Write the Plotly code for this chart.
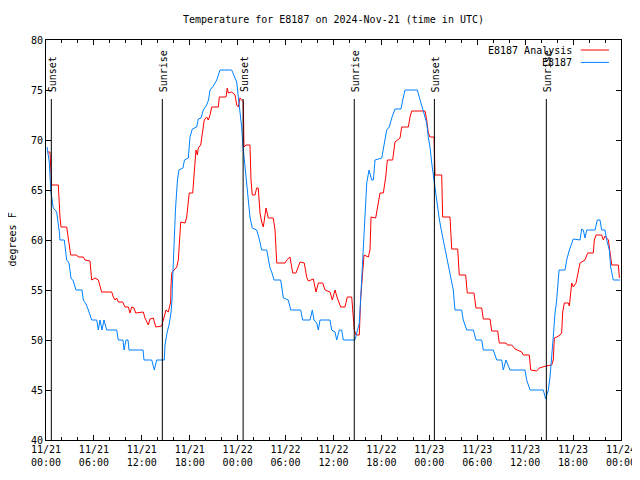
import pandas as pd
import plotly.graph_objects as go

START = "2024-11-21 00:00"
X_RANGE = ["2024-11-21 00:00", "2024-11-24 00:00"]
Y_RANGE = [40, 80]

# E8187 Analysis (red) : hours since START, temperature F
analysis_hours = [0.16, 0.50, 0.71, 1.54, 1.75, 1.88, 2.59, 2.79, 2.92, 3.09, 3.84, 4.04, 4.67, 4.88,
                  5.51, 5.72, 6.14, 6.55, 6.97, 8.23, 8.43, 8.64, 8.85, 9.05, 9.60, 9.89, 10.31, 10.52,
                  10.73, 11.02, 11.23, 11.77, 12.18, 12.40, 12.81, 13.02, 13.44, 13.74, 14.49, 14.69,
                  15.03, 15.31, 15.61, 15.65, 15.74, 16.03, 16.37, 16.57, 16.69, 16.87, 17.41, 17.62,
                  17.82, 17.94, 18.37, 18.57, 18.78, 18.95, 19.07, 19.37, 19.62, 19.82, 20.12, 20.32,
                  20.54, 20.75, 21.58, 21.70, 22.54, 22.70, 22.83, 23.25, 23.67, 23.88, 24.08, 24.29,
                  24.71, 24.79, 25.04, 25.54, 25.67, 25.83, 26.17, 26.38, 26.58, 26.80, 27.01, 27.21,
                  27.55, 27.84, 28.46, 28.68, 28.89, 29.93, 30.14, 30.55, 30.89, 31.30, 31.81, 32.34,
                  32.64, 32.85, 33.47, 33.81, 34.10, 34.65, 34.94, 35.56, 35.85, 36.19, 36.48, 36.90,
                  37.44, 37.73, 38.28, 38.48, 38.61, 38.82, 39.23, 39.41, 39.66, 39.82, 40.36, 40.57,
                  40.70, 41.28, 41.61, 41.82, 42.24, 42.54, 42.74, 43.41, 43.70, 44.33, 44.54, 45.37,
                  45.58, 45.79, 47.46, 47.67, 47.87, 48.08, 48.59, 48.71, 49.55, 49.67, 50.59, 50.80,
                  51.55, 51.75, 52.55, 52.75, 53.59, 53.84, 54.56, 54.76, 55.60, 55.81, 56.56, 56.76,
                  57.60, 57.77, 58.31, 58.73, 59.57, 59.77, 60.52, 60.69, 61.44, 61.77, 62.60, 63.32,
                  63.52, 63.65, 63.95, 64.36, 64.57, 64.70, 64.90, 65.40, 65.53, 65.70, 65.83, 66.03,
                  66.37, 66.87, 67.49, 67.83, 68.53, 68.66, 68.87, 69.58, 69.78, 70.00, 70.42, 70.84,
                  71.67, 71.80]
analysis_temp = [68.8, 68.8, 65.5, 65.5, 62.3, 61.3, 61.3, 60.2, 59.0, 58.5, 58.5, 58.3, 58.3, 58.0,
                 57.9, 56.0, 56.2, 56.0, 54.8, 54.8, 54.3, 54.0, 54.2, 53.8, 53.8, 53.3, 53.3, 52.7,
                 53.3, 53.2, 52.7, 52.8, 52.8, 52.2, 51.5, 52.1, 52.2, 51.3, 51.4, 52.0,
                 53.0, 52.8, 53.8, 55.3, 56.7, 57.0, 57.3, 58.0, 60.0, 61.8, 61.7, 62.3,
                 63.8, 64.7, 64.7, 66.5, 69.0, 68.5, 69.2, 69.5, 71.0, 72.0, 72.3, 72.0,
                 72.5, 73.3, 73.3, 74.3, 74.3, 75.2, 74.7, 74.8, 74.5, 73.5, 73.3, 74.2,
                 73.8, 69.3, 69.5, 69.5, 66.0, 64.5, 64.5, 65.2, 65.2, 62.7, 61.8, 61.3,
                 63.2, 62.2, 62.2, 61.0, 57.7, 57.7, 58.0, 58.3, 56.7, 56.7, 57.8, 57.7,
                 56.3, 55.9, 56.1, 54.8, 55.7, 55.7, 55.0, 54.8, 54.0, 55.0, 54.2, 53.3,
                 53.3, 54.3, 54.3, 52.7, 51.0, 50.5, 50.5, 54.2, 57.3, 58.5, 58.3, 59.0,
                 62.3, 62.2, 63.7, 64.7, 64.7, 66.3, 68.0, 68.0, 69.8, 70.2, 71.3, 71.3,
                 72.3, 72.9, 72.9, 72.0, 70.7, 70.3, 70.3, 66.5, 66.5, 62.3, 62.3, 59.1,
                 59.1, 56.5, 56.5, 54.7, 54.7, 53.2, 53.2, 52.1, 52.1, 50.9, 50.9, 49.7,
                 49.7, 49.5, 49.5, 49.1, 48.8, 48.5, 48.5, 47.0, 46.9, 47.2, 47.4, 47.5,
                 48.0, 50.2, 50.3, 50.5, 50.7, 52.8, 53.7, 53.7, 53.4, 55.2, 55.7, 55.3,
                 55.7, 57.7, 58.0, 58.7, 58.7, 60.0, 60.5, 60.5, 60.0, 60.4, 60.0, 57.5,
                 57.5, 56.2]

# E8187 observations (blue)
obs_hours = [0.13, 0.41, 0.59, 0.71, 0.91, 1.34, 1.54, 1.67, 1.75, 2.29, 2.59, 2.88, 3.13, 3.42,
             3.76, 4.51, 4.67, 5.01, 5.30, 5.72, 6.35, 6.55, 6.76, 7.01, 7.26, 7.60, 8.85, 9.05,
             9.64, 9.77, 10.02, 10.27, 10.39, 12.15, 12.27, 13.24, 13.56, 13.86, 14.81, 14.90,
             15.15, 15.40, 15.65, 15.78, 15.84, 16.03, 16.21, 16.46, 16.65, 17.15, 17.34, 17.82,
             17.97, 18.03, 18.32, 18.87, 19.07, 19.41, 19.70, 20.12, 20.35, 20.54, 20.95, 21.38,
             21.79, 23.25, 23.67, 23.88, 24.08, 24.29, 24.50, 24.63, 24.71, 25.04, 25.33, 25.54,
             25.83, 26.38, 26.67, 27.01, 27.64, 28.05, 28.26, 28.55, 29.39, 29.72, 30.34, 30.64,
             31.89, 32.14, 33.06, 33.35, 33.56, 33.90, 34.10, 34.31, 35.56, 35.77, 36.19, 36.40,
             36.73, 37.03, 37.23, 38.69, 38.91, 39.23, 39.48, 39.73, 39.95, 40.16, 40.45, 40.78,
             40.99, 41.20, 42.04, 42.24, 42.45, 42.66, 42.99, 43.29, 43.70, 44.45, 44.67, 44.95,
             46.49, 46.83, 47.25, 47.67, 47.87, 48.08, 48.30, 48.50, 48.71, 48.92, 49.21, 49.42,
             49.75, 50.17, 50.59, 51.00, 51.21, 52.05, 52.25, 52.68, 53.51, 53.85, 54.56, 54.76,
             56.01, 56.44, 57.06, 57.26, 57.60, 58.10, 59.98, 60.19, 60.61, 62.27, 62.57, 62.90,
             63.11, 63.32, 63.52, 63.74, 63.95, 64.24, 64.99, 65.20, 65.53, 66.03, 66.87, 67.08,
             67.28, 67.49, 67.71, 68.75, 69.03, 69.37, 69.58, 70.00, 70.21, 70.54, 70.71, 71.03,
             71.88]
obs_temp = [69.3, 67.8, 65.0, 64.2, 63.2, 62.8, 61.8, 60.8, 60.0, 60.0, 58.0, 57.7, 56.2, 55.9,
            55.0, 55.0, 54.0, 53.6, 53.0, 52.0, 52.0, 51.0, 52.0, 51.0, 52.0, 51.0, 51.0, 50.0,
            50.0, 49.0, 50.0, 50.0, 49.0, 49.0, 48.0, 48.0, 47.0, 48.0, 48.0, 49.5,
            50.7, 51.5, 52.7, 54.0, 55.7, 60.0, 63.0, 66.0, 67.0, 67.2, 68.0, 68.2,
            69.5, 70.3, 71.1, 71.3, 72.1, 72.2, 73.0, 73.5, 74.0, 75.0, 75.4, 76.0,
            77.0, 77.0, 76.2, 75.8, 74.3, 73.0, 71.3, 69.7, 69.0, 66.0, 63.8, 62.3,
            61.2, 61.0, 60.2, 59.0, 59.0, 57.2, 56.8, 56.0, 56.0, 54.2, 54.0, 53.0,
            53.0, 52.0, 52.0, 53.0, 52.0, 51.7, 51.0, 52.0, 52.0, 51.0, 50.8, 50.0,
            51.0, 51.0, 50.0, 50.0, 50.7, 51.7, 55.3, 59.0, 62.0, 65.7, 67.0, 66.0,
            66.0, 68.0, 68.2, 69.2, 69.8, 71.0, 71.3, 72.2, 73.1, 73.1, 74.0, 75.0,
            75.0, 74.0, 73.0, 71.7, 70.3, 69.3, 67.7, 66.5, 65.0, 63.7, 62.3, 61.3,
            60.0, 58.3, 56.7, 55.0, 53.0, 53.0, 52.0, 51.0, 51.0, 50.0, 50.0, 49.0,
            49.0, 48.0, 48.0, 47.0, 48.0, 47.0, 47.0, 46.0, 45.0, 45.0, 44.1, 45.0,
            46.3, 48.0, 50.3, 52.7, 54.0, 57.0, 57.0, 58.0, 59.0, 60.1, 60.0, 61.1,
            61.0, 60.2, 61.0, 61.0, 62.0, 62.0, 61.0, 61.0, 60.0, 59.0, 57.3, 56.0,
            56.0]

sun_times = ["2024-11-21 00:40", "2024-11-21 14:34", "2024-11-22 00:41",
             "2024-11-22 14:36", "2024-11-23 00:38", "2024-11-23 14:39"]
sun_labels = ["Sunset", "Sunrise", "Sunset", "Sunrise", "Sunset", "Sunrise"]
sun_line_top = 74.1

series_names = ["E8187 Analysis", "E8187"]
series_colors = ["#ff0000", "#0080ff"]

FONT = "DejaVu Sans Mono"

start = pd.Timestamp(START)
t_an = start + pd.to_timedelta(analysis_hours, unit="h")
t_ob = start + pd.to_timedelta(obs_hours, unit="h")

fig = go.Figure()
fig.add_trace(go.Scatter(x=t_an, y=analysis_temp, mode="lines", name=series_names[0],
                         line=dict(color=series_colors[0], width=1), showlegend=False))
fig.add_trace(go.Scatter(x=t_ob, y=obs_temp, mode="lines", name=series_names[1],
                         line=dict(color=series_colors[1], width=1), showlegend=False))

for t, lab in zip(sun_times, sun_labels):
    fig.add_shape(type="line", xref="x", yref="y", x0=t, x1=t, y0=Y_RANGE[0], y1=sun_line_top,
                  line=dict(color="black", width=1))
    fig.add_annotation(x=t, y=sun_line_top, xref="x", yref="y", text=lab, textangle=-90,
                       showarrow=False, xanchor="center", yanchor="bottom", yshift=5, xshift=1,
                       font=dict(family=FONT, size=10, color="black"))

# manual legend (text left of sample line, gnuplot style)
leg_y = [0.975, 0.944]
for name, col, ly in zip(series_names, series_colors, leg_y):
    fig.add_annotation(x=0.918, y=ly, xref="paper", yref="paper", text=name, showarrow=False,
                       xanchor="right", yanchor="middle",
                       font=dict(family=FONT, size=10, color="black"))
    fig.add_shape(type="line", xref="paper", yref="paper", x0=0.930, x1=0.979, y0=ly, y1=ly,
                  line=dict(color=col, width=1))

fig.add_annotation(x=-0.060, y=0.5, xref="paper", yref="paper", text="degrees F", textangle=-90,
                   showarrow=False, xanchor="center", yanchor="middle",
                   font=dict(family=FONT, size=10, color="black"))

# page body has an 8px margin: place the plot where the reference has it
fig.update_layout(
    width=640, height=472, autosize=False,
    margin=dict(l=38, r=27, t=32, b=40),
    paper_bgcolor="white", plot_bgcolor="white",
    title=dict(text="Temperature for E8187 on 2024-Nov-21 (time in UTC)", x=0.5, xref="paper",
               y=1 - 11 / 472, yanchor="middle", xanchor="center", automargin=False,
               font=dict(family=FONT, size=10, color="black")),
    showlegend=False,
    font=dict(family=FONT, size=10, color="black"),
)
fig.update_xaxes(type="date", range=X_RANGE, tick0=START, dtick=6 * 3600 * 1000,
                 tickformat="%m/%d<br>%H:%M", ticks="inside", ticklen=5, tickcolor="black",
                 showline=True, linecolor="black", linewidth=1, mirror="ticks",
                 showgrid=False, zeroline=False, automargin=False,
                 minor=dict(dtick=2 * 3600 * 1000, ticks="inside", ticklen=3, tickcolor="black",
                            showgrid=False),
                 tickfont=dict(family=FONT, size=10, color="black"))
fig.update_yaxes(range=Y_RANGE, dtick=5, ticks="inside", ticklen=5, tickcolor="black",
                 showline=True, linecolor="black", linewidth=1, mirror="ticks",
                 showgrid=False, zeroline=False, automargin=False,
                 tickfont=dict(family=FONT, size=10, color="black"))

fig.write_html("out.html")
